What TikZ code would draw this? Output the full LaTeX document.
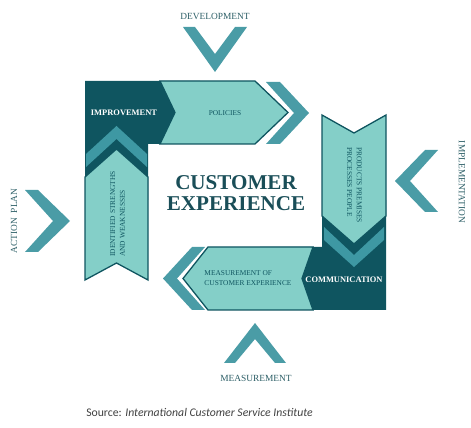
\documentclass[tikz,border=0pt]{standalone}
\usepackage{fontspec}
\setmainfont{Liberation Serif}
\newfontfamily\srcfont{Carlito}
\usetikzlibrary{calc}
\definecolor{deepteal}{HTML}{0F5560}
\definecolor{paleteal}{HTML}{84CFC8}
\definecolor{midteal}{HTML}{3E98A3}
\definecolor{chevteal}{HTML}{4A9CA6}
\definecolor{titleteal}{HTML}{1A4E58}
\definecolor{labelteal}{HTML}{2C5E66}

\tikzset{
  band/.style={fill=deepteal},
  panel/.style={fill=paleteal,draw=deepteal,line width=1.1pt,line join=miter},
  stripe/.style={fill=midteal},
  chev/.style={fill=chevteal},
  outlabel/.style={text=labelteal,font=\fontsize{8}{9}\selectfont,inner sep=0pt},
  inlabel/.style={text=deepteal,font=\fontsize{6.3}{8.3}\selectfont,inner sep=0pt,align=left},
  keylabel/.style={text=white,font=\bfseries\fontsize{7.2}{9}\selectfont,inner sep=0pt}
}

\begin{document}
\begin{tikzpicture}[x=0.03cm,y=-0.03cm]
\useasboundingbox (0,0) rectangle (471,428);

% dark corner blocks
\fill[band] (85,81) -- (200,81) -- (200,144) -- (148,144) -- (148,200) -- (85,200) -- cycle;
\fill[band] (322,200) -- (386,200) -- (386,310) -- (260,310) -- (260,247) -- (322,247) -- cycle;

% pale arrows
\draw[panel] (85,177) -- (116.5,149) -- (148,177) -- (148,280) -- (116.5,263) -- (85,280) -- cycle;
\draw[panel] (160,81) -- (255,81) -- (288,112.5) -- (255,144) -- (160,144) -- (175,112.5) -- cycle;
\draw[panel] (322,115) -- (354,133) -- (386,115) -- (386,216) -- (354,244) -- (322,216) -- cycle;
\draw[panel] (313,247) -- (302,278.5) -- (313,310) -- (208,310) -- (183,278.5) -- (208,247) -- cycle;

% stripes inside the dark corners
\fill[stripe] (86,154) -- (116.5,126) -- (147,154) -- (147,167) -- (116.5,139) -- (86,167) -- cycle;
\fill[stripe] (324,227) -- (354,255) -- (384,227) -- (384,240) -- (354,267) -- (324,240) -- cycle;

% chevrons
\fill[chev] (266,82) -- (280,82) -- (309,113) -- (280,144) -- (266,144) -- (294,113) -- cycle;
\fill[chev] (205,247) -- (192,247) -- (163,278.5) -- (192,310) -- (205,310) -- (177,278.5) -- cycle;
\fill[chev] (183,27) -- (195,27) -- (215,54) -- (235,27) -- (247,27) -- (215,72) -- cycle;
\fill[chev] (224,363) -- (255,323) -- (286,363) -- (275,363) -- (255,339) -- (235,363) -- cycle;
\fill[chev] (25,190) -- (38,190) -- (70,221) -- (38,252) -- (25,252) -- (53,221) -- cycle;
\fill[chev] (438,150) -- (425,150) -- (395,181) -- (425,212) -- (438,212) -- (410,181) -- cycle;

\foreach \i/\x/\y/\r/\t in {1/215/16/0/DEVELOPMENT,2/256/378/0/MEASUREMENT,
    3/14/221/90/{ACTION\ \ PLAN},4/462/182/-90/IMPLEMENTATION}
  \node[outlabel,rotate=\r] (lab\i) at (\x,\y) {\t};

\node[keylabel] (improve) at (124,113) {IMPROVEMENT};
\node[keylabel] (communic) at (344,280) {COMMUNICATION};
\node[inlabel] (policies) at (225,113) {POLICIES};
\node[inlabel] (measure) at (248,278) {MEASUREMENT OF\\CUSTOMER EXPERIENCE};
\node[inlabel,rotate=90,anchor=west] (identify) at (117.5,257) {IDENTIFIED STRENGTHS\\AND WEAKNESSES};
\node[inlabel,rotate=-90,anchor=west] (products) at (354.5,147) {PRODUCTS PREMISES\\PROCESSES PEOPLE};

\node[text=titleteal,font=\bfseries\fontsize{18}{18}\selectfont,align=center,inner sep=0pt]
  (title) at (236,193) {CUSTOMER\\EXPERIENCE};

\node[text=black!75,font=\srcfont\fontsize{10}{12}\selectfont,inner sep=0pt]
  (source) at (199.5,412) {Source: \textit{International Customer Service Institute}};
\end{tikzpicture}
\end{document}
